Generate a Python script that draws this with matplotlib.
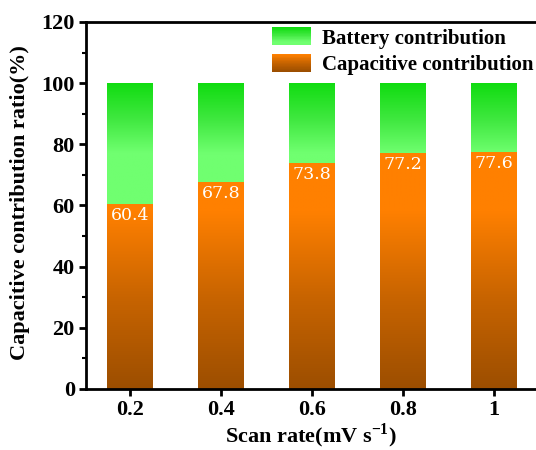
import numpy as np
import matplotlib
matplotlib.use("Agg")
import matplotlib.pyplot as plt
from matplotlib.patches import Rectangle
from matplotlib.legend_handler import HandlerBase
from matplotlib.colors import to_rgb

plt.rcParams["font.family"] = "Liberation Serif"
plt.rcParams["font.weight"] = "bold"
plt.rcParams["axes.labelweight"] = "bold"
plt.rcParams["mathtext.fontset"] = "custom"
plt.rcParams["mathtext.rm"] = "Liberation Serif:bold"
plt.rcParams["mathtext.bf"] = "Liberation Serif:bold"

scan_rates = ["0.2", "0.4", "0.6", "0.8", "1"]
capacitive = [60.4, 67.8, 73.8, 77.2, 77.6]
battery = [100 - v for v in capacitive]

# colour stops (value, colour) for the two gradient fills
orange_stops = [(0, "#9c4e00"), (30, "#c86400"), (58, "#ff8000"), (120, "#ff8000")]
green_stops = [(0, "#70ff70"), (77, "#70ff70"), (88, "#40e840"), (100, "#10dc10")]


def gradient_colors(stops, ys):
    vals = [s[0] for s in stops]
    cols = np.array([to_rgb(s[1]) for s in stops])
    return np.stack([np.interp(ys, vals, cols[:, k]) for k in range(3)], axis=-1)


def gradient_bar(ax, x, bottom, height, width, stops):
    ys = np.linspace(bottom + height, bottom, 200)
    img = gradient_colors(stops, ys)[:, None, :]
    im = ax.imshow(img, extent=(x - width / 2, x + width / 2, bottom, bottom + height),
                   aspect="auto", interpolation="bilinear", zorder=2)
    clip = Rectangle((x - width / 2, bottom), width, height, transform=ax.transData,
                     facecolor="none", edgecolor="none")
    im.set_clip_path(clip)


class GradientHandler(HandlerBase):
    def __init__(self, colors):
        super().__init__()
        self.colors = colors

    def create_artists(self, legend, orig_handle, xdescent, ydescent,
                       width, height, fontsize, trans):
        n = len(self.colors)
        arts = []
        for i, c in enumerate(self.colors):
            r = Rectangle((-xdescent, -ydescent + height * (n - 1 - i) / n),
                          width, height / n + 0.1, facecolor=c,
                          edgecolor="none", transform=trans)
            arts.append(r)
        return arts


fig = plt.figure(figsize=(5.36, 4.5), dpi=100)
ax = fig.add_axes([0.1604, 0.1356, 0.8396, 0.8156])

x = np.arange(len(scan_rates))
width = 0.5
for xi, cap, bat in zip(x, capacitive, battery):
    gradient_bar(ax, xi, 0, cap, width, orange_stops)
    gradient_bar(ax, xi, cap, bat, width, green_stops)
    ax.text(xi, cap - 1.0, f"{cap:.1f}", ha="center", va="top", color="white",
            fontsize=12.5, family="DejaVu Serif", fontweight="normal", zorder=3)

ax.set_xlim(-0.48, 4.46)
ax.set_ylim(0, 120)
ax.set_xticks(x)
ax.set_xticklabels(scan_rates)
ax.set_yticks(np.arange(0, 121, 20))
ax.set_yticks(np.arange(10, 120, 20), minor=True)
ax.tick_params(axis="both", which="major", direction="out", length=5, width=2,
               labelsize=16, pad=3)
ax.tick_params(axis="y", which="minor", direction="out", length=3, width=1.5)
ax.spines["right"].set_visible(False)
for s in ["left", "bottom", "top"]:
    ax.spines[s].set_linewidth(2)

ax.set_xlabel(r"Scan rate(mV s$^{-1}$)", fontsize=16, labelpad=1)
ax.set_ylabel("Capacitive contribution ratio(%)", fontsize=16)
ax.yaxis.set_label_coords(-0.125, 0.507)

green_leg = gradient_colors(green_stops, np.linspace(100, 72, 30))
orange_leg = gradient_colors(orange_stops, np.linspace(60, 0, 30))
h1 = Rectangle((0, 0), 1, 1)
h2 = Rectangle((0, 0), 1, 1)
ax.legend([h1, h2], ["Battery contribution", "Capacitive contribution"],
          handler_map={h1: GradientHandler(green_leg), h2: GradientHandler(orange_leg)},
          loc="upper right", bbox_to_anchor=(1.012, 1.008), frameon=False,
          fontsize=15, handlelength=1.9, handleheight=0.95, handletextpad=0.5,
          labelspacing=0.25, borderaxespad=0.0)

fig.savefig("out.png", dpi=100)
